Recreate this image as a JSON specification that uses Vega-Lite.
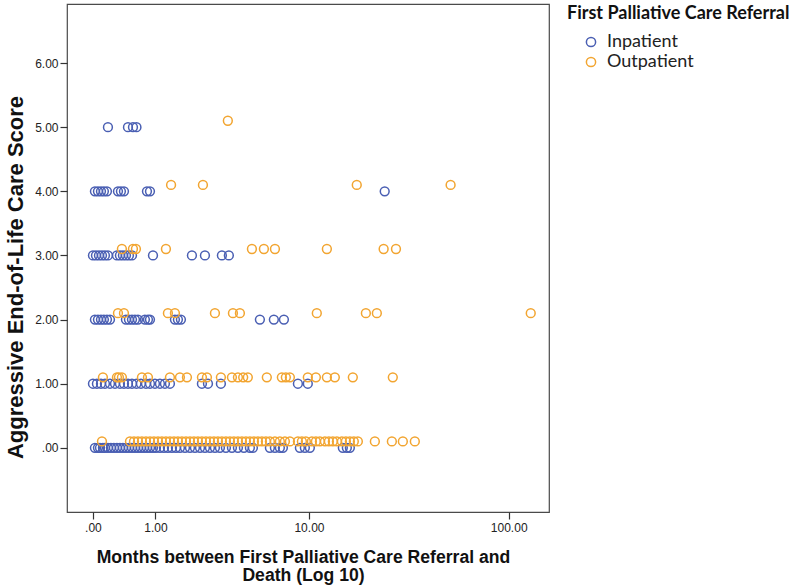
{
  "$schema": "https://vega.github.io/schema/vega-lite/v6.json",
  "autosize": {"type": "none"},
  "width": 482,
  "height": 508,
  "padding": {"left": 67, "top": 4, "right": 251, "bottom": 76},
  "background": "white",
  "config": {
    "view": {"stroke": "#4a4a4a", "strokeWidth": 1.2},
    "font": "Liberation Sans"
  },
  "datasets": {
    "pts": [
      {"m": 0.022, "s": 0, "r": "Inpatient"}, {"m": 0.057, "s": 0, "r": "Inpatient"}, {"m": 0.081, "s": 0, "r": "Inpatient"}, {"m": 0.117, "s": 0, "r": "Inpatient"}, {"m": 0.142, "s": 0, "r": "Inpatient"}, {"m": 0.181, "s": 0, "r": "Inpatient"}, {"m": 0.221, "s": 0, "r": "Inpatient"}, {"m": 0.262, "s": 0, "r": "Inpatient"}, {"m": 0.305, "s": 0, "r": "Inpatient"}, {"m": 0.349, "s": 0, "r": "Inpatient"}, {"m": 0.395, "s": 0, "r": "Inpatient"}, {"m": 0.442, "s": 0, "r": "Inpatient"}, {"m": 0.491, "s": 0, "r": "Inpatient"}, {"m": 0.542, "s": 0, "r": "Inpatient"}, {"m": 0.594, "s": 0, "r": "Inpatient"}, {"m": 0.648, "s": 0, "r": "Inpatient"}, {"m": 0.703, "s": 0, "r": "Inpatient"}, {"m": 0.761, "s": 0, "r": "Inpatient"}, {"m": 0.821, "s": 0, "r": "Inpatient"}, {"m": 0.883, "s": 0, "r": "Inpatient"}, {"m": 0.947, "s": 0, "r": "Inpatient"}, {"m": 1.012, "s": 0, "r": "Inpatient"}, {"m": 1.103, "s": 0, "r": "Inpatient"}, {"m": 1.199, "s": 0, "r": "Inpatient"}, {"m": 1.298, "s": 0, "r": "Inpatient"}, {"m": 1.403, "s": 0, "r": "Inpatient"}, {"m": 1.512, "s": 0, "r": "Inpatient"}, {"m": 1.626, "s": 0, "r": "Inpatient"}, {"m": 1.777, "s": 0, "r": "Inpatient"}, {"m": 1.935, "s": 0, "r": "Inpatient"}, {"m": 2.102, "s": 0, "r": "Inpatient"}, {"m": 2.281, "s": 0, "r": "Inpatient"}, {"m": 2.466, "s": 0, "r": "Inpatient"}, {"m": 2.664, "s": 0, "r": "Inpatient"}, {"m": 2.873, "s": 0, "r": "Inpatient"}, {"m": 3.093, "s": 0, "r": "Inpatient"}, {"m": 3.375, "s": 0, "r": "Inpatient"}, {"m": 3.677, "s": 0, "r": "Inpatient"}, {"m": 3.999, "s": 0, "r": "Inpatient"}, {"m": 4.343, "s": 0, "r": "Inpatient"}, {"m": 4.709, "s": 0, "r": "Inpatient"}, {"m": 4.903, "s": 0, "r": "Inpatient"}, {"m": 6.129, "s": 0, "r": "Inpatient"}, {"m": 6.536, "s": 0, "r": "Inpatient"}, {"m": 6.964, "s": 0, "r": "Inpatient"}, {"m": 7.235, "s": 0, "r": "Inpatient"}, {"m": 8.945, "s": 0, "r": "Inpatient"}, {"m": 9.51, "s": 0, "r": "Inpatient"}, {"m": 10.11, "s": 0, "r": "Inpatient"}, {"m": 15.02, "s": 0, "r": "Inpatient"}, {"m": 15.75, "s": 0, "r": "Inpatient"}, {"m": 16.32, "s": 0, "r": "Inpatient"},
      {"m": 0.0, "s": 1, "r": "Inpatient"}, {"m": 0.045, "s": 1, "r": "Inpatient"}, {"m": 0.093, "s": 1, "r": "Inpatient"}, {"m": 0.142, "s": 1, "r": "Inpatient"}, {"m": 0.208, "s": 1, "r": "Inpatient"}, {"m": 0.277, "s": 1, "r": "Inpatient"}, {"m": 0.349, "s": 1, "r": "Inpatient"}, {"m": 0.411, "s": 1, "r": "Inpatient"}, {"m": 0.475, "s": 1, "r": "Inpatient"}, {"m": 0.542, "s": 1, "r": "Inpatient"}, {"m": 0.621, "s": 1, "r": "Inpatient"}, {"m": 0.703, "s": 1, "r": "Inpatient"}, {"m": 0.801, "s": 1, "r": "Inpatient"}, {"m": 0.883, "s": 1, "r": "Inpatient"}, {"m": 0.99, "s": 1, "r": "Inpatient"}, {"m": 1.103, "s": 1, "r": "Inpatient"}, {"m": 1.223, "s": 1, "r": "Inpatient"}, {"m": 1.35, "s": 1, "r": "Inpatient"}, {"m": 2.352, "s": 1, "r": "Inpatient"}, {"m": 2.585, "s": 1, "r": "Inpatient"}, {"m": 3.138, "s": 1, "r": "Inpatient"}, {"m": 8.73, "s": 1, "r": "Inpatient"}, {"m": 9.86, "s": 1, "r": "Inpatient"},
      {"m": 0.022, "s": 2, "r": "Inpatient"}, {"m": 0.057, "s": 2, "r": "Inpatient"}, {"m": 0.093, "s": 2, "r": "Inpatient"}, {"m": 0.129, "s": 2, "r": "Inpatient"}, {"m": 0.168, "s": 2, "r": "Inpatient"}, {"m": 0.208, "s": 2, "r": "Inpatient"}, {"m": 0.442, "s": 2, "r": "Inpatient"}, {"m": 0.491, "s": 2, "r": "Inpatient"}, {"m": 0.542, "s": 2, "r": "Inpatient"}, {"m": 0.594, "s": 2, "r": "Inpatient"}, {"m": 0.648, "s": 2, "r": "Inpatient"}, {"m": 0.78, "s": 2, "r": "Inpatient"}, {"m": 0.841, "s": 2, "r": "Inpatient"}, {"m": 0.883, "s": 2, "r": "Inpatient"}, {"m": 1.484, "s": 2, "r": "Inpatient"}, {"m": 1.568, "s": 2, "r": "Inpatient"}, {"m": 1.655, "s": 2, "r": "Inpatient"}, {"m": 5.38, "s": 2, "r": "Inpatient"}, {"m": 6.45, "s": 2, "r": "Inpatient"}, {"m": 7.33, "s": 2, "r": "Inpatient"},
      {"m": 0.0, "s": 3, "r": "Inpatient"}, {"m": 0.034, "s": 3, "r": "Inpatient"}, {"m": 0.069, "s": 3, "r": "Inpatient"}, {"m": 0.105, "s": 3, "r": "Inpatient"}, {"m": 0.142, "s": 3, "r": "Inpatient"}, {"m": 0.181, "s": 3, "r": "Inpatient"}, {"m": 0.305, "s": 3, "r": "Inpatient"}, {"m": 0.349, "s": 3, "r": "Inpatient"}, {"m": 0.395, "s": 3, "r": "Inpatient"}, {"m": 0.442, "s": 3, "r": "Inpatient"}, {"m": 0.491, "s": 3, "r": "Inpatient"}, {"m": 0.542, "s": 3, "r": "Inpatient"}, {"m": 0.947, "s": 3, "r": "Inpatient"}, {"m": 2.0, "s": 3, "r": "Inpatient"}, {"m": 2.466, "s": 3, "r": "Inpatient"}, {"m": 3.184, "s": 3, "r": "Inpatient"}, {"m": 3.52, "s": 3, "r": "Inpatient"},
      {"m": 0.022, "s": 4, "r": "Inpatient"}, {"m": 0.057, "s": 4, "r": "Inpatient"}, {"m": 0.093, "s": 4, "r": "Inpatient"}, {"m": 0.129, "s": 4, "r": "Inpatient"}, {"m": 0.168, "s": 4, "r": "Inpatient"}, {"m": 0.32, "s": 4, "r": "Inpatient"}, {"m": 0.364, "s": 4, "r": "Inpatient"}, {"m": 0.411, "s": 4, "r": "Inpatient"}, {"m": 0.821, "s": 4, "r": "Inpatient"}, {"m": 0.883, "s": 4, "r": "Inpatient"}, {"m": 24.5, "s": 4, "r": "Inpatient"},
      {"m": 0.181, "s": 5, "r": "Inpatient"}, {"m": 0.475, "s": 5, "r": "Inpatient"}, {"m": 0.559, "s": 5, "r": "Inpatient"}, {"m": 0.621, "s": 5, "r": "Inpatient"},
      {"m": 0.105, "s": 0.1, "r": "Outpatient"}, {"m": 0.508, "s": 0.1, "r": "Outpatient"}, {"m": 0.577, "s": 0.1, "r": "Outpatient"}, {"m": 0.648, "s": 0.1, "r": "Outpatient"}, {"m": 0.722, "s": 0.1, "r": "Outpatient"}, {"m": 0.801, "s": 0.1, "r": "Outpatient"}, {"m": 0.883, "s": 0.1, "r": "Outpatient"}, {"m": 0.968, "s": 0.1, "r": "Outpatient"}, {"m": 1.058, "s": 0.1, "r": "Outpatient"}, {"m": 1.15, "s": 0.1, "r": "Outpatient"}, {"m": 1.248, "s": 0.1, "r": "Outpatient"}, {"m": 1.35, "s": 0.1, "r": "Outpatient"}, {"m": 1.458, "s": 0.1, "r": "Outpatient"}, {"m": 1.568, "s": 0.1, "r": "Outpatient"}, {"m": 1.685, "s": 0.1, "r": "Outpatient"}, {"m": 1.808, "s": 0.1, "r": "Outpatient"}, {"m": 1.935, "s": 0.1, "r": "Outpatient"}, {"m": 2.068, "s": 0.1, "r": "Outpatient"}, {"m": 2.206, "s": 0.1, "r": "Outpatient"}, {"m": 2.352, "s": 0.1, "r": "Outpatient"}, {"m": 2.504, "s": 0.1, "r": "Outpatient"}, {"m": 2.664, "s": 0.1, "r": "Outpatient"}, {"m": 2.83, "s": 0.1, "r": "Outpatient"}, {"m": 3.003, "s": 0.1, "r": "Outpatient"}, {"m": 3.184, "s": 0.1, "r": "Outpatient"}, {"m": 3.375, "s": 0.1, "r": "Outpatient"}, {"m": 3.573, "s": 0.1, "r": "Outpatient"}, {"m": 3.78, "s": 0.1, "r": "Outpatient"}, {"m": 3.999, "s": 0.1, "r": "Outpatient"}, {"m": 4.226, "s": 0.1, "r": "Outpatient"}, {"m": 4.463, "s": 0.1, "r": "Outpatient"}, {"m": 4.709, "s": 0.1, "r": "Outpatient"}, {"m": 4.969, "s": 0.1, "r": "Outpatient"}, {"m": 5.241, "s": 0.1, "r": "Outpatient"}, {"m": 5.524, "s": 0.1, "r": "Outpatient"}, {"m": 5.82, "s": 0.1, "r": "Outpatient"}, {"m": 6.129, "s": 0.1, "r": "Outpatient"}, {"m": 6.536, "s": 0.1, "r": "Outpatient"}, {"m": 6.964, "s": 0.1, "r": "Outpatient"}, {"m": 7.42, "s": 0.1, "r": "Outpatient"}, {"m": 7.9, "s": 0.1, "r": "Outpatient"}, {"m": 8.73, "s": 0.1, "r": "Outpatient"}, {"m": 9.17, "s": 0.1, "r": "Outpatient"}, {"m": 9.63, "s": 0.1, "r": "Outpatient"}, {"m": 10.36, "s": 0.1, "r": "Outpatient"}, {"m": 10.88, "s": 0.1, "r": "Outpatient"}, {"m": 11.42, "s": 0.1, "r": "Outpatient"}, {"m": 12.13, "s": 0.1, "r": "Outpatient"}, {"m": 12.72, "s": 0.1, "r": "Outpatient"}, {"m": 13.34, "s": 0.1, "r": "Outpatient"}, {"m": 14.0, "s": 0.1, "r": "Outpatient"}, {"m": 14.85, "s": 0.1, "r": "Outpatient"}, {"m": 15.57, "s": 0.1, "r": "Outpatient"}, {"m": 16.32, "s": 0.1, "r": "Outpatient"}, {"m": 17.1, "s": 0.1, "r": "Outpatient"}, {"m": 17.93, "s": 0.1, "r": "Outpatient"}, {"m": 21.86, "s": 0.1, "r": "Outpatient"}, {"m": 26.61, "s": 0.1, "r": "Outpatient"}, {"m": 30.19, "s": 0.1, "r": "Outpatient"}, {"m": 34.63, "s": 0.1, "r": "Outpatient"},
      {"m": 0.117, "s": 1.1, "r": "Outpatient"}, {"m": 0.305, "s": 1.1, "r": "Outpatient"}, {"m": 0.334, "s": 1.1, "r": "Outpatient"}, {"m": 0.379, "s": 1.1, "r": "Outpatient"}, {"m": 0.722, "s": 1.1, "r": "Outpatient"}, {"m": 0.841, "s": 1.1, "r": "Outpatient"}, {"m": 1.35, "s": 1.1, "r": "Outpatient"}, {"m": 1.626, "s": 1.1, "r": "Outpatient"}, {"m": 1.839, "s": 1.1, "r": "Outpatient"}, {"m": 2.352, "s": 1.1, "r": "Outpatient"}, {"m": 2.544, "s": 1.1, "r": "Outpatient"}, {"m": 3.138, "s": 1.1, "r": "Outpatient"}, {"m": 3.677, "s": 1.1, "r": "Outpatient"}, {"m": 3.999, "s": 1.1, "r": "Outpatient"}, {"m": 4.3, "s": 1.1, "r": "Outpatient"}, {"m": 4.58, "s": 1.1, "r": "Outpatient"}, {"m": 5.89, "s": 1.1, "r": "Outpatient"}, {"m": 7.14, "s": 1.1, "r": "Outpatient"}, {"m": 7.51, "s": 1.1, "r": "Outpatient"}, {"m": 7.9, "s": 1.1, "r": "Outpatient"}, {"m": 9.86, "s": 1.1, "r": "Outpatient"}, {"m": 10.88, "s": 1.1, "r": "Outpatient"}, {"m": 12.42, "s": 1.1, "r": "Outpatient"}, {"m": 13.66, "s": 1.1, "r": "Outpatient"}, {"m": 16.9, "s": 1.1, "r": "Outpatient"}, {"m": 26.9, "s": 1.1, "r": "Outpatient"},
      {"m": 0.32, "s": 2.1, "r": "Outpatient"}, {"m": 0.411, "s": 2.1, "r": "Outpatient"}, {"m": 1.298, "s": 2.1, "r": "Outpatient"}, {"m": 1.484, "s": 2.1, "r": "Outpatient"}, {"m": 2.873, "s": 2.1, "r": "Outpatient"}, {"m": 3.73, "s": 2.1, "r": "Outpatient"}, {"m": 4.11, "s": 2.1, "r": "Outpatient"}, {"m": 11.0, "s": 2.1, "r": "Outpatient"}, {"m": 19.69, "s": 2.1, "r": "Outpatient"}, {"m": 22.37, "s": 2.1, "r": "Outpatient"}, {"m": 128, "s": 2.1, "r": "Outpatient"},
      {"m": 0.379, "s": 3.1, "r": "Outpatient"}, {"m": 0.559, "s": 3.1, "r": "Outpatient"}, {"m": 0.611, "s": 3.1, "r": "Outpatient"}, {"m": 1.248, "s": 3.1, "r": "Outpatient"}, {"m": 4.84, "s": 3.1, "r": "Outpatient"}, {"m": 5.67, "s": 3.1, "r": "Outpatient"}, {"m": 6.54, "s": 3.1, "r": "Outpatient"}, {"m": 12.42, "s": 3.1, "r": "Outpatient"}, {"m": 24.2, "s": 3.1, "r": "Outpatient"}, {"m": 27.9, "s": 3.1, "r": "Outpatient"},
      {"m": 1.38, "s": 4.1, "r": "Outpatient"}, {"m": 2.39, "s": 4.1, "r": "Outpatient"}, {"m": 17.7, "s": 4.1, "r": "Outpatient"}, {"m": 52, "s": 4.1, "r": "Outpatient"},
      {"m": 3.47, "s": 5.1, "r": "Outpatient"}
    ]
  },
  "data": {"name": "pts"},
  "mark": {"type": "point", "shape": "circle", "filled": false, "size": 78, "strokeWidth": 1.5, "opacity": 1},
  "encoding": {
    "x": {
      "field": "m", "type": "quantitative",
      "scale": {"type": "symlog", "constant": 1, "domain": [-0.334, 157], "nice": false},
      "axis": {
        "values": [0, 1, 10, 100],
        "labelExpr": "datum.value == 0 ? '.00' : format(datum.value, '.2f')",
        "grid": false, "domain": false,
        "tickColor": "#333", "tickSize": 7, "tickWidth": 1.2,
        "labelFont": "Liberation Sans", "labelFontSize": 12, "labelColor": "#222", "labelPadding": 3,
        "title": ["Months between First Palliative Care Referral and", "Death (Log 10)"],
        "titleFont": "Liberation Sans", "titleFontSize": 17.6, "titleFontWeight": "bold", "titleColor": "#111",
        "titleLineHeight": 18.5, "titleBaseline": "top", "titleAlign": "center", "titleX": 236, "titleY": 36
      }
    },
    "y": {
      "field": "s", "type": "quantitative",
      "scale": {"domain": [-1.0, 6.92], "nice": false, "zero": false},
      "axis": {
        "values": [0, 1, 2, 3, 4, 5, 6],
        "labelExpr": "datum.value == 0 ? '.00' : format(datum.value, '.2f')",
        "grid": false, "domain": false,
        "tickColor": "#333", "tickSize": 7, "tickWidth": 1.2,
        "labelFont": "Liberation Sans", "labelFontSize": 12, "labelColor": "#222", "labelPadding": 2,
        "title": "Aggressive End-of-Life Care Score",
        "titleFont": "Liberation Sans", "titleFontSize": 22, "titleFontWeight": "bold", "titleColor": "#111",
        "titleAngle": -90, "titleBaseline": "middle", "titleAlign": "center", "titleX": -52, "titleY": 273
      }
    },
    "color": {
      "field": "r", "type": "nominal",
      "scale": {"domain": ["Inpatient", "Outpatient"], "range": ["#4a5fb3", "#f2a531"]},
      "legend": {
        "title": "First Palliative Care Referral",
        "orient": "none", "legendX": 500, "legendY": 1, "padding": 0,
        "titleFont": "Lato", "titleFontSize": 18, "titleFontWeight": "bold", "titleColor": "#111", "titlePadding": 10, "titleLimit": 400,
        "labelFont": "Lato", "labelFontSize": 18, "labelColor": "#222", "labelLimit": 300,
        "symbolType": "circle", "symbolSize": 85, "symbolStrokeWidth": 1.5, "symbolFillColor": "transparent",
        "symbolOffset": 15, "labelOffset": 7, "rowPadding": 2
      }
    }
  }
}
